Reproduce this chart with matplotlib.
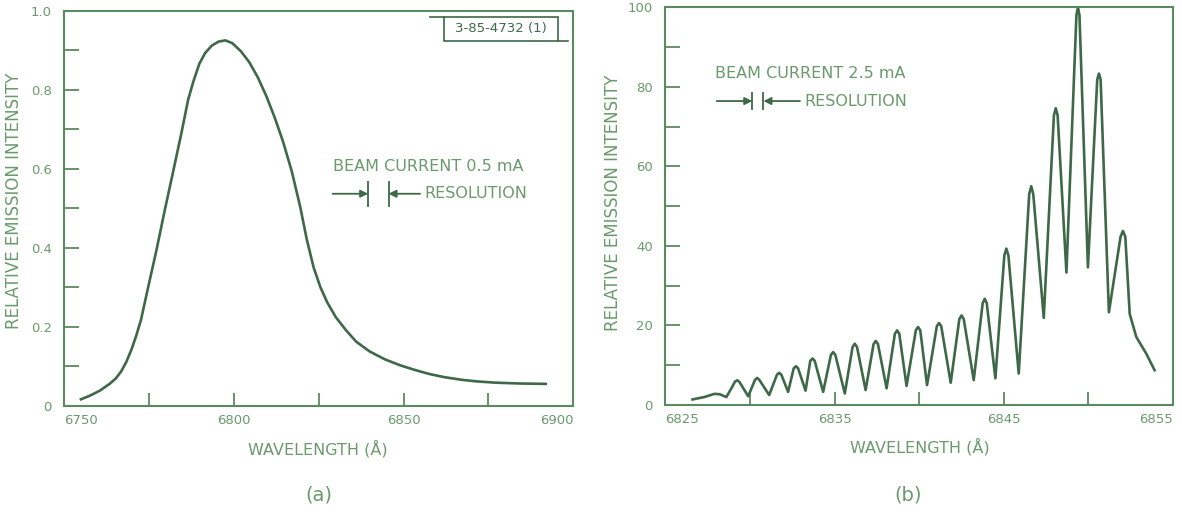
import matplotlib.pyplot as plt
import numpy as np
from matplotlib.patches import Rectangle
from matplotlib.lines import Line2D

# (a) beam current 0.5 mA
wl_a = [6754.9, 6757.5, 6760.5, 6763.5, 6765.2, 6766.8, 6768.3, 6769.8, 6771.2,
        6772.6, 6774.7, 6777.2, 6779.6, 6782.0, 6784.5, 6786.5, 6788.0, 6789.8,
        6791.5, 6793.5, 6795.5, 6797.5, 6799.5, 6802.0, 6804.5, 6807.0, 6809.5,
        6812.0, 6814.5, 6817.0, 6819.5, 6821.5, 6823.5, 6825.5, 6827.5, 6830.0,
        6833.0, 6836.0, 6840.0, 6844.5, 6849.0, 6853.0, 6857.6, 6862.0, 6867.4,
        6872.0, 6877.2, 6884.0, 6891.9]
int_a = [0.017, 0.026, 0.039, 0.057, 0.070, 0.088, 0.112, 0.143, 0.178,
         0.218, 0.300, 0.396, 0.495, 0.590, 0.690, 0.775, 0.820, 0.866,
         0.893, 0.912, 0.922, 0.925, 0.918, 0.898, 0.870, 0.832, 0.785,
         0.730, 0.668, 0.595, 0.505, 0.420, 0.350, 0.300, 0.262, 0.225,
         0.192, 0.163, 0.138, 0.118, 0.103, 0.092, 0.081, 0.073, 0.066,
         0.062, 0.059, 0.057, 0.056]

# (b) beam current 2.5 mA
wl_b = [6826.6, 6827.3, 6827.9, 6828.2, 6828.6, 6828.95, 6829.11, 6829.24, 6829.37,
        6829.89, 6830.29, 6830.42, 6830.55, 6831.13, 6831.59, 6831.72, 6831.85,
        6832.25, 6832.58, 6832.71, 6832.84, 6833.28, 6833.56, 6833.69, 6833.82,
        6834.32, 6834.78, 6834.91, 6835.04, 6835.60, 6836.06, 6836.19, 6836.32,
        6836.83, 6837.30, 6837.43, 6837.56, 6838.07, 6838.56, 6838.69, 6838.82,
        6839.25, 6839.80, 6839.93, 6840.06, 6840.46, 6841.04, 6841.17, 6841.30,
        6841.86, 6842.37, 6842.50, 6842.63, 6843.22, 6843.75, 6843.87, 6843.99,
        6844.50, 6845.03, 6845.15, 6845.27, 6845.88, 6846.50, 6846.62, 6846.74,
        6847.36, 6847.96, 6848.07, 6848.18, 6848.70, 6849.29, 6849.38, 6849.47,
        6849.97, 6850.52, 6850.62, 6850.72, 6851.21, 6851.90, 6852.04, 6852.18,
        6852.44, 6852.83, 6853.42, 6853.91]
int_b = [1.4, 2.0, 2.8, 2.7, 2.0, 4.6, 5.9, 6.2, 5.8,
         2.2, 6.3, 6.8, 6.3, 2.5, 7.6, 8.1, 7.6,
         3.3, 9.2, 9.75, 9.2, 3.6, 11.1, 11.7, 11.1,
         3.3, 12.6, 13.3, 12.6, 2.9, 14.6, 15.4, 14.6,
         3.75, 15.3, 16.1, 15.3, 4.2, 17.9, 18.75, 17.9,
         4.8, 18.8, 19.6, 18.8, 5.0, 19.8, 20.6, 19.8,
         5.6, 21.6, 22.5, 21.6, 6.25, 25.6, 26.7, 25.6,
         6.7, 37.6, 39.3, 37.6, 7.9, 53.0, 55.0, 53.0,
         21.9, 72.8, 74.6, 72.8, 33.3, 98.0, 100.0, 98.0,
         34.6, 81.8, 83.3, 81.8, 23.3, 42.3, 43.75, 42.3,
         22.9, 17.1, 12.9, 8.75]

xticks_a = [6750, 6775, 6800, 6825, 6850, 6875, 6900]
xlabels_a = ['6750', '', '6800', '', '6850', '', '6900']
yticks_a = [0, 0.1, 0.2, 0.3, 0.4, 0.5, 0.6, 0.7, 0.8, 0.9, 1.0]
ylabels_a = ['0', '', '0.2', '', '0.4', '', '0.6', '', '0.8', '', '1.0']
xticks_b = [6825, 6830, 6835, 6840, 6845, 6850, 6855]
xlabels_b = ['6825', '', '6835', '', '6845', '', '6855']
yticks_b = [0, 10, 20, 30, 40, 50, 60, 70, 80, 90, 100]
ylabels_b = ['0', '', '20', '', '40', '', '60', '', '80', '', '100']

LINE = '#3e6848'
INK = '#5b8a60'
TEXT = '#6a9a6c'

fig = plt.figure(figsize=(11.82, 5.12), dpi=100, facecolor='white')
ax_a = fig.add_axes([0.0544, 0.207, 0.4306, 0.772])
ax_b = fig.add_axes([0.563, 0.209, 0.4294, 0.777])


def style(ax, xt, xl, yt, yl):
    ax.set_xticks(xt)
    ax.set_xticklabels(xl)
    ax.set_yticks(yt)
    ax.set_yticklabels(yl)
    ax.set_xlim(xt[0], xt[-1])
    ax.set_ylim(yt[0], yt[-1])
    ax.tick_params(axis='both', direction='in', colors=INK, labelcolor=TEXT,
                   labelsize=9.5, width=1.3)
    ax.tick_params(axis='y', length=11, pad=9)
    ax.tick_params(axis='x', length=9.5, pad=6)
    for s in ax.spines.values():
        s.set_color(INK)
        s.set_linewidth(1.5)
    labels = ax.get_xticklabels()
    labels[0].set_horizontalalignment('left')
    labels[-1].set_horizontalalignment('right')


style(ax_a, xticks_a, xlabels_a, yticks_a, ylabels_a)
style(ax_b, xticks_b, xlabels_b, yticks_b, ylabels_b)

ax_a.plot(wl_a, int_a, color=LINE, lw=1.9, solid_joinstyle='round')
ax_b.plot(wl_b, int_b, color=LINE, lw=1.9, solid_joinstyle='round')


def resolution(ax, text, tx, ty, x1, x2, x0, x3, ry, rh):
    # beam current + resolution bracket, all in axes fraction
    ax.text(tx, ty, text, transform=ax.transAxes, color=TEXT, fontsize=11.5,
            va='center', ha='left')
    arrow = dict(arrowstyle='-|>', color=LINE, lw=1.3, mutation_scale=11,
                 shrinkA=0, shrinkB=0)
    ax.annotate('', xy=(x1, ry), xytext=(x0, ry), xycoords='axes fraction',
                textcoords='axes fraction', arrowprops=arrow)
    ax.annotate('', xy=(x2, ry), xytext=(x3, ry), xycoords='axes fraction',
                textcoords='axes fraction', arrowprops=arrow)
    for x in (x1, x2):
        ax.add_line(Line2D([x, x], [ry - rh, ry + rh], transform=ax.transAxes,
                           color=LINE, lw=1.3))
    ax.text(x3 + 0.008, ry, 'RESOLUTION', transform=ax.transAxes, color=TEXT,
            fontsize=11.5, va='center', ha='left')


resolution(ax_a, 'BEAM CURRENT 0.5 mA', 0.527, 0.605, 0.597, 0.637, 0.527, 0.699, 0.537, 0.03)
resolution(ax_b, 'BEAM CURRENT 2.5 mA', 0.0975, 0.834, 0.171, 0.193, 0.101, 0.265, 0.764, 0.019)

# figure number tag
ax_a.add_patch(Rectangle((0.746, 0.923), 0.224, 0.061, transform=ax_a.transAxes,
                         fill=False, edgecolor=LINE, lw=1.2))
ax_a.add_line(Line2D([0.718, 0.746], [0.984, 0.984], transform=ax_a.transAxes, color=LINE, lw=1.2))
ax_a.add_line(Line2D([0.970, 0.990], [0.923, 0.923], transform=ax_a.transAxes, color=LINE, lw=1.2))
ax_a.text(0.858, 0.954, '3-85-4732 (1)', transform=ax_a.transAxes, color=LINE,
          fontsize=9.5, ha='center', va='center')

for x, y in [(0.0118, 0.607), (0.519, 0.604)]:
    fig.text(x, y, 'RELATIVE EMISSION INTENSITY', rotation=90, color=TEXT,
             fontsize=12, ha='center', va='center')
for x, y in [(0.269, 0.123), (0.778, 0.127)]:
    fig.text(x, y, 'WAVELENGTH (Å)', color=TEXT, fontsize=11.5, ha='center', va='center')
fig.text(0.270, 0.033, '(a)', color=TEXT, fontsize=14, ha='center', va='center')
fig.text(0.768, 0.033, '(b)', color=TEXT, fontsize=14, ha='center', va='center')

fig.savefig('out.png', dpi=100, facecolor='white')
